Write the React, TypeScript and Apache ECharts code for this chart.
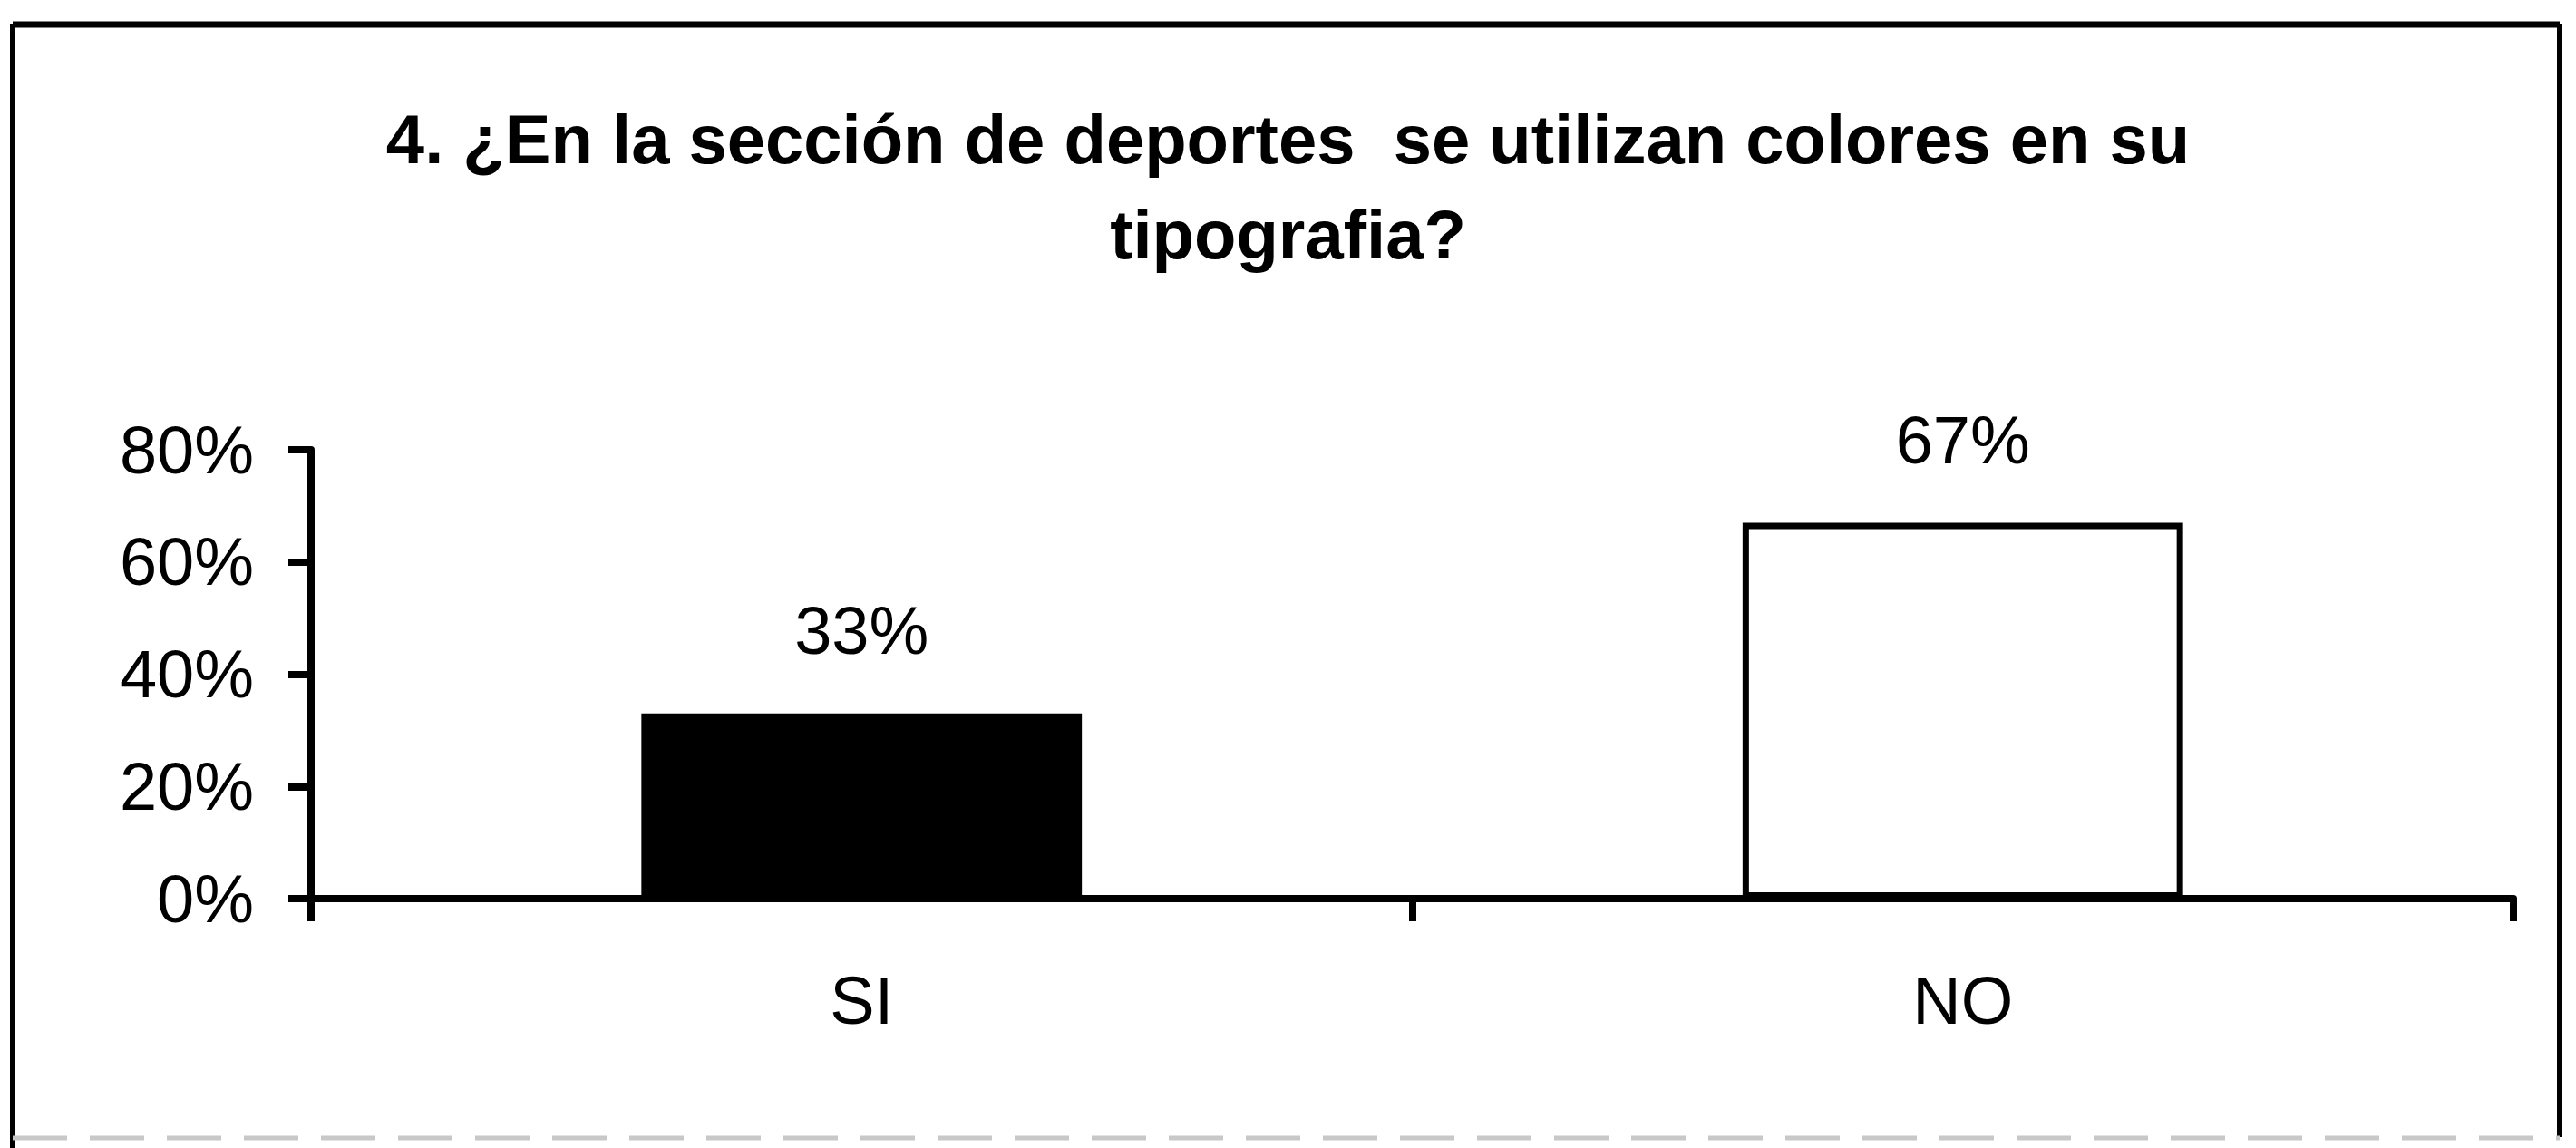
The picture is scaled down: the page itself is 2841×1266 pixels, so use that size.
import React, { useEffect, useRef } from 'react';
import * as echarts from 'echarts';

const TITLE_LINES = ['4. ¿En la sección de deportes  se utilizan colores en su', 'tipografia?'];
const categories = ['SI', 'NO'];
const values = [33, 67];
const barColors = ['#000000', '#ffffff'];
const Y_MIN = 0;
const Y_MAX = 80;
const Y_STEP = 20;

export default function App() {
  const ref = useRef<HTMLDivElement>(null);
  useEffect(() => {
    document.body.style.margin = '0';
    const chart = echarts.init(ref.current as HTMLDivElement, null, { renderer: 'svg' });
    const font = 'Liberation Sans, Arial, sans-serif';
    chart.setOption({
      animation: false,
      backgroundColor: '#ffffff',
      title: {
        text: TITLE_LINES.join('\n'),
        left: 'center',
        top: 96,
        textStyle: { fontFamily: font, fontWeight: 'bold', fontSize: 76, lineHeight: 105, color: '#000' },
      },
      grid: { left: 343, right: 69, top: 496, bottom: 275 },
      xAxis: {
        type: 'category',
        data: categories,
        axisLine: { show: true, lineStyle: { color: '#000', width: 8 } },
        axisTick: { show: true, length: 25, lineStyle: { color: '#000', width: 8 } },
        axisLabel: { margin: 75, fontSize: 74, color: '#000', fontFamily: font },
      },
      yAxis: {
        type: 'value',
        min: Y_MIN,
        max: Y_MAX,
        interval: Y_STEP,
        axisLine: { show: true, lineStyle: { color: '#000', width: 8 } },
        axisTick: { show: true, length: 25, lineStyle: { color: '#000', width: 8 } },
        splitLine: { show: false },
        axisLabel: { formatter: '{value}%', margin: 63, fontSize: 74, color: '#000', fontFamily: font },
      },
      series: [
        {
          type: 'bar',
          barWidth: '40%',
          data: values.map((v, i) => ({
            value: v,
            itemStyle: { color: barColors[i], borderColor: '#000', borderWidth: 7 },
          })),
          label: {
            show: true,
            position: 'top',
            distance: 54,
            formatter: '{c}%',
            fontSize: 74,
            color: '#000',
            fontFamily: font,
          },
        },
      ],
      graphic: [
        { type: 'line', shape: { x1: 14, y1: 27, x2: 2823, y2: 27 }, style: { stroke: '#000', lineWidth: 7 } },
        { type: 'line', shape: { x1: 14, y1: 27, x2: 14, y2: 1266 }, style: { stroke: '#000', lineWidth: 6 } },
        { type: 'line', shape: { x1: 2823, y1: 27, x2: 2823, y2: 1254 }, style: { stroke: '#000', lineWidth: 6 } },
        { type: 'line', shape: { x1: 14, y1: 1255, x2: 2823, y2: 1255 }, style: { stroke: '#c8c8c8', lineWidth: 5, lineDash: [60, 25] } },
      ],
    });
    return () => chart.dispose();
  }, []);
  return <div ref={ref} style={{ width: 2841, height: 1266 }} />;
}
